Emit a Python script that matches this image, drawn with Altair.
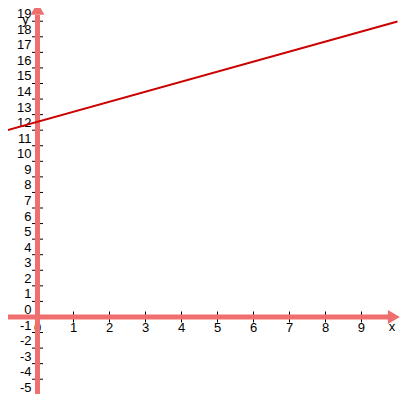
import altair as alt
import pandas as pd

# ---- data ----
line_x = [-1, 10]
line_y = [11.9, 18.98]

x_tick_vals = [-1, 1, 2, 3, 4, 5, 6, 7, 8, 9]
x_label_vals = [-1, 0, 1, 2, 3, 4, 5, 6, 7, 8, 9]
y_tick_vals = [-5, -4, -3, -2, -1, 1, 2, 3, 4, 5, 6, 7, 8, 9, 10,
               11, 12, 13, 14, 15, 16, 17, 18, 19]
y_label_vals = [-5, -4, -3, -2, -1, 0, 1, 2, 3, 4, 5, 6, 7, 8, 9, 10,
                11, 12, 13, 14, 15, 16, 17, 18, 19]

x_domain = [-0.82, 10.07]
y_domain = [-4.95, 19.85]

AXIS_COLOR = "#ef6f6f"
LINE_COLOR = "#cc0000"
FONT = "Liberation Sans"

xs = alt.Scale(domain=x_domain, nice=False, zero=False)
ys = alt.Scale(domain=y_domain, nice=False, zero=False)

df_line = pd.DataFrame({"x": line_x, "y": line_y})
df_xt = pd.DataFrame({"x": x_tick_vals, "y": [0] * len(x_tick_vals)})
df_xl = pd.DataFrame({"x": x_label_vals, "y": [0] * len(x_label_vals),
                      "t": [str(v) for v in x_label_vals]})
df_yt = pd.DataFrame({"x": [0] * len(y_tick_vals), "y": y_tick_vals})
df_yl = pd.DataFrame({"x": [0] * len(y_label_vals), "y": y_label_vals,
                      "t": [str(v) for v in y_label_vals]})

df_xaxis = pd.DataFrame({"x": [-2], "x2": [9.75], "y": [0]})
df_yaxis = pd.DataFrame({"x": [0], "y": [-6], "y2": [19.4]})
df_xarrow = pd.DataFrame({"x": [9.9], "y": [0]})
df_yarrow = pd.DataFrame({"x": [0], "y": [19.8]})
df_xname = pd.DataFrame({"x": [9.85], "y": [0], "t": ["x"]})
df_yname = pd.DataFrame({"x": [0], "y": [19], "t": ["y"]})

X = lambda f="x": alt.X(f"{f}:Q", scale=xs, axis=None)
Y = lambda f="y": alt.Y(f"{f}:Q", scale=ys, axis=None)

x_labels = alt.Chart(df_xl).mark_text(
    align="center", baseline="alphabetic", dy=15, fontSize=13, font=FONT, color="black"
).encode(x=X(), y=Y(), text="t:N")

x_name = alt.Chart(df_xname).mark_text(
    align="center", baseline="alphabetic", dy=14, fontSize=13, font=FONT, color="black"
).encode(x=X(), y=Y(), text="t:N")

y_labels = alt.Chart(df_yl).mark_text(
    align="right", baseline="alphabetic", dx=-6, dy=-3, fontSize=13, font=FONT, color="black"
).encode(x=X(), y=Y(), text="t:N")

y_name = alt.Chart(df_yname).mark_text(
    align="center", baseline="alphabetic", dx=-12, dy=3, fontSize=13, font=FONT, color="black"
).encode(x=X(), y=Y(), text="t:N")

x_ticks = alt.Chart(df_xt).mark_tick(
    orient="vertical", size=11, thickness=1, color="black", opacity=1
).encode(x=X(), y=Y())

y_ticks = alt.Chart(df_yt).mark_tick(
    orient="horizontal", size=11, thickness=1, color="black", opacity=1
).encode(x=X(), y=Y())

x_axis = alt.Chart(df_xaxis).mark_rule(color=AXIS_COLOR, strokeWidth=5).encode(
    x=X(), x2="x2:Q", y=Y())
y_axis = alt.Chart(df_yaxis).mark_rule(color=AXIS_COLOR, strokeWidth=5).encode(
    x=X(), y=Y(), y2="y2:Q")

right_tri = "M-0.857,-1 L0.857,0 L-0.857,1 Z"
up_tri = "M-1,0.857 L0,-0.857 L1,0.857 Z"

x_arrow = alt.Chart(df_xarrow).mark_point(
    shape=right_tri, filled=True, size=196, color=AXIS_COLOR, opacity=1, strokeWidth=0
).encode(x=X(), y=Y())
y_arrow = alt.Chart(df_yarrow).mark_point(
    shape=up_tri, filled=True, size=196, color=AXIS_COLOR, opacity=1, strokeWidth=0
).encode(x=X(), y=Y())

line = alt.Chart(df_line).mark_line(color=LINE_COLOR, strokeWidth=2).encode(
    x=X(), y=Y())

chart = alt.layer(
    x_labels, x_name, y_labels, y_name, x_ticks, y_ticks,
    x_axis, y_axis, x_arrow, y_arrow, line
).properties(
    width=392, height=386,
    autosize=alt.AutoSizeParams(type="none"),
    padding=0,
    background="white",
).configure_view(stroke="transparent", strokeWidth=0)

chart.save("out.html", embed_options={"renderer": "svg", "actions": False})
